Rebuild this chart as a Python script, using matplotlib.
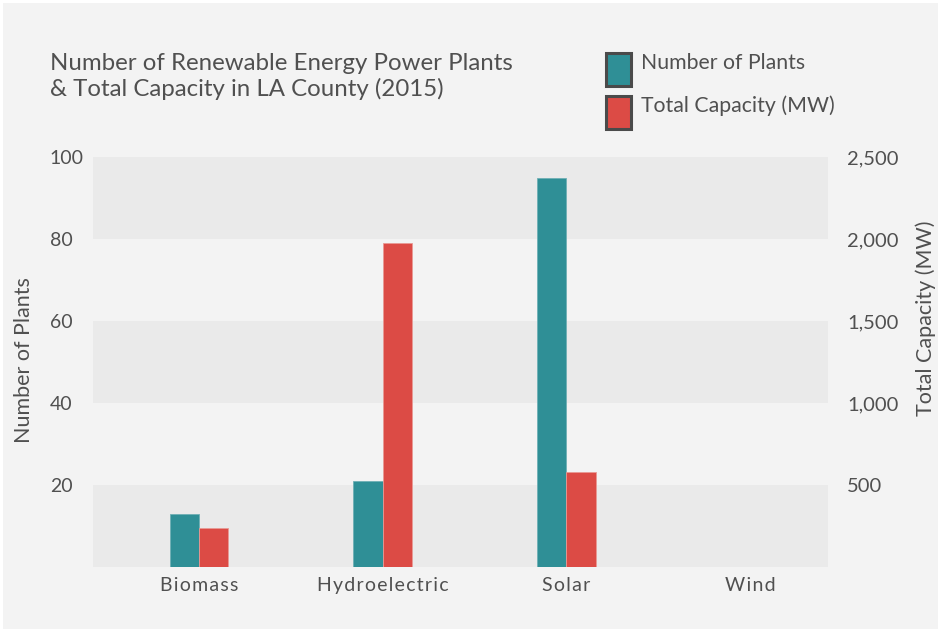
import matplotlib
matplotlib.use("Agg")
import matplotlib.pyplot as plt
from matplotlib.patches import Rectangle
from matplotlib.ticker import FuncFormatter

# Data
categories = ["Biomass", "Hydroelectric", "Solar", "Wind"]
num_plants = [13, 21, 95, 0]
capacity_mw = [238, 1975, 580, 0]
left_ticks = [20, 40, 60, 80, 100]
right_ticks = [500, 1000, 1500, 2000, 2500]

TEAL = "#2f8f96"
RED = "#dc4b45"
BG = "#f3f3f3"
BAND = "#eaeaea"
TEXT = "#505050"
FONT = ["Lato", "DejaVu Sans"]

W, H = 941, 632
fig = plt.figure(figsize=(W / 100, H / 100), dpi=100, facecolor="white")

# Panel background with a thin white frame
fig.patches.append(Rectangle((3 / W, 3 / H), (W - 6) / W, (H - 6) / H,
                             transform=fig.transFigure, facecolor=BG,
                             edgecolor="none", zorder=-10))

# Plot area in pixels: x 93..828, y 157..567
ax = fig.add_axes([93 / W, 1 - 567 / H, (828 - 93) / W, (567 - 157) / H])
ax.set_facecolor(BG)
ax.set_ylim(0, 100)
ax.set_xlim(-0.577, 3.425)

# Alternating horizontal bands
for lo in (0, 40, 80):
    ax.axhspan(lo, lo + 20, color=BAND, zorder=0, lw=0)

ax2 = ax.twinx()
ax2.set_ylim(0, 2500)

x = list(range(len(categories)))
bw = 0.16
ax.bar([i - bw / 2 for i in x], num_plants, width=bw, color=TEAL,
       edgecolor="#6fb0b5", linewidth=0.6, zorder=3)
ax2.bar([i + bw / 2 for i in x], capacity_mw, width=bw, color=RED,
        edgecolor="#e99a95", linewidth=0.6, zorder=3)

for a in (ax, ax2):
    for s in a.spines.values():
        s.set_visible(False)
    a.tick_params(length=0)


def spaced(s):
    return "\u200a".join(s)


ax.set_xticks(x)
ax.set_xticklabels([spaced(c) for c in categories], fontfamily=FONT,
                   fontsize=14, color=TEXT)
ax.tick_params(axis="x", pad=7)

ax.set_yticks(left_ticks)
ax.set_yticklabels([str(t) for t in left_ticks], fontfamily=FONT,
                   fontsize=14, color=TEXT, ha="left")
ax.tick_params(axis="y", pad=31)

ax2.set_yticks(right_ticks)
ax2.yaxis.set_major_formatter(FuncFormatter(lambda v, p: f"{int(v):,}"))
for lab in ax2.get_yticklabels():
    lab.set_fontfamily(FONT)
    lab.set_fontsize(14.5)
    lab.set_color(TEXT)
ax2.tick_params(axis="y", pad=13.7)

fig.text(24 / W, 1 - 360 / H, "Number of Plants", rotation=90, ha="center",
         va="center", fontfamily=FONT, fontsize=15.5, color=TEXT)
fig.text(926 / W, 1 - 318 / H, "Total Capacity (MW)", rotation=90,
         ha="center", va="center", fontfamily=FONT, fontsize=15.5, color=TEXT)

# Title
fig.text(50 / W, 1 - 53 / H,
         "Number of Renewable Energy Power Plants\n& Total Capacity in LA County (2015)",
         ha="left", va="top", fontfamily=FONT, fontsize=17.3, color=TEXT,
         linespacing=1.22)

# Legend
for (y0, col, lab) in [(52, TEAL, "Number of Plants"),
                       (95, RED, "Total Capacity (MW)")]:
    fig.patches.append(Rectangle((606 / W, 1 - (y0 + 34) / H), 25 / W, 33 / H,
                                 transform=fig.transFigure, facecolor=col,
                                 edgecolor="#4a4a4a", linewidth=2.2))
    fig.text(641 / W, 1 - (y0 + 11) / H, lab, ha="left", va="center",
             fontfamily=FONT, fontsize=15.3, color=TEXT)

fig.savefig("out.png", dpi=100, facecolor="white")
